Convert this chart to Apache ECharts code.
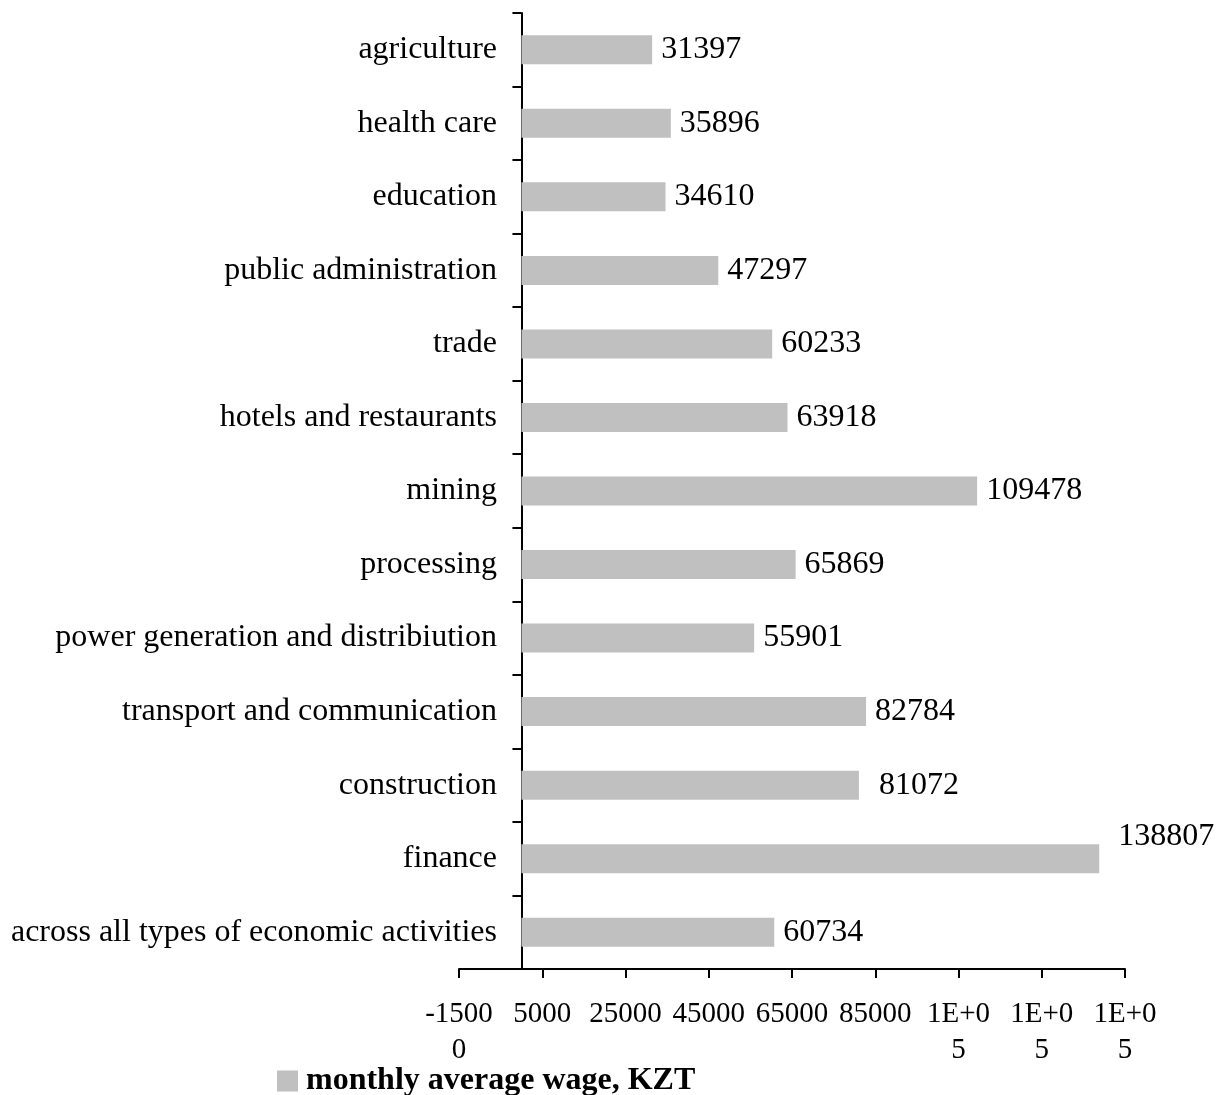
<!DOCTYPE html>
<html>
<head>
<meta charset="utf-8">
<title>Monthly average wage by economic activity</title>
<script src="https://cdn.jsdelivr.net/npm/echarts@6/dist/echarts.min.js"></script>
<style>
  html, body { margin: 0; padding: 0; background: #fff; }
  #chart { width: 1225px; height: 1095px; }
</style>
</head>
<body>
<div id="chart"></div>
<script>
// Sectors, listed top to bottom
const categories = [
  'agriculture',
  'health care',
  'education',
  'public administration',
  'trade',
  'hotels and restaurants',
  'mining',
  'processing',
  'power generation and distribiution',
  'transport and communication',
  'construction',
  'finance',
  'across all types of economic activities'
];

// Monthly average wage, KZT
const wages = [31397, 35896, 34610, 47297, 60233, 63918, 109478, 65869, 55901, 82784, 81072, 138807, 60734];

const seriesName = 'monthly average wage, KZT';

// Value-axis ticks and the labels printed under them
const xTickValues = [-15000, 5000, 25000, 45000, 65000, 85000, 105000, 125000, 145000];
const xTickLabels = ['-1500\n0', '5000', '25000', '45000', '65000', '85000', '1E+0\n5', '1E+0\n5', '1E+0\n5'];

const FONT = "'Liberation Serif', 'Times New Roman', serif";

// A couple of value labels are nudged away from their default spot
const labelNudge = {
  'construction': [11, 0],
  'finance': [10, -22]
};

const barData = wages.map((v, i) => {
  const item = { value: v };
  const nudge = labelNudge[categories[i]];
  if (nudge) item.label = { offset: nudge };
  return item;
});

const chart = echarts.init(document.getElementById('chart'), null, { renderer: 'canvas' });

chart.setOption({
  animation: false,
  backgroundColor: '#ffffff',
  textStyle: { fontFamily: FONT },
  grid: {
    left: 459, right: 100, top: 13, bottom: 126,
    containLabel: false,
    outerBoundsMode: 'none'
  },
  legend: {
    left: 277,
    top: 1065,
    padding: 0,
    itemWidth: 21,
    itemHeight: 21,
    icon: 'rect',
    itemGap: 10,
    textStyle: {
      fontFamily: FONT, fontSize: 32, fontWeight: 'bold', color: '#000',
      padding: [0, 0, 0, 3]
    },
    data: [seriesName]
  },
  xAxis: {
    type: 'value',
    min: xTickValues[0],
    max: xTickValues[xTickValues.length - 1],
    splitLine: { show: false },
    axisLine: { show: true, onZero: false, lineStyle: { color: '#000', width: 2 } },
    axisTick: {
      show: true,
      length: 9,
      customValues: xTickValues,
      lineStyle: { color: '#000', width: 2 }
    },
    axisLabel: {
      customValues: xTickValues,
      margin: 27,
      fontSize: 29,
      lineHeight: 36,
      color: '#000',
      fontFamily: FONT,
      formatter: function (v) {
        const idx = xTickValues.indexOf(v);
        return idx >= 0 ? xTickLabels[idx] : '';
      }
    }
  },
  yAxis: {
    type: 'category',
    inverse: true,
    data: categories,
    axisLine: { show: true, onZero: true, lineStyle: { color: '#000', width: 2 } },
    axisTick: { show: true, length: 9, lineStyle: { color: '#000', width: 2 } },
    axisLabel: {
      // measured from the grid's left edge; the axis line itself sits at x = 0
      margin: -38,
      fontSize: 32,
      color: '#000',
      fontFamily: FONT
    },
    splitLine: { show: false }
  },
  series: [{
    name: seriesName,
    type: 'bar',
    data: barData,
    barWidth: 29,
    itemStyle: { color: '#c0c0c0' },
    label: {
      show: true,
      position: 'right',
      distance: 9,
      fontSize: 32,
      color: '#000',
      fontFamily: FONT
    }
  }]
});
</script>
</body>
</html>
